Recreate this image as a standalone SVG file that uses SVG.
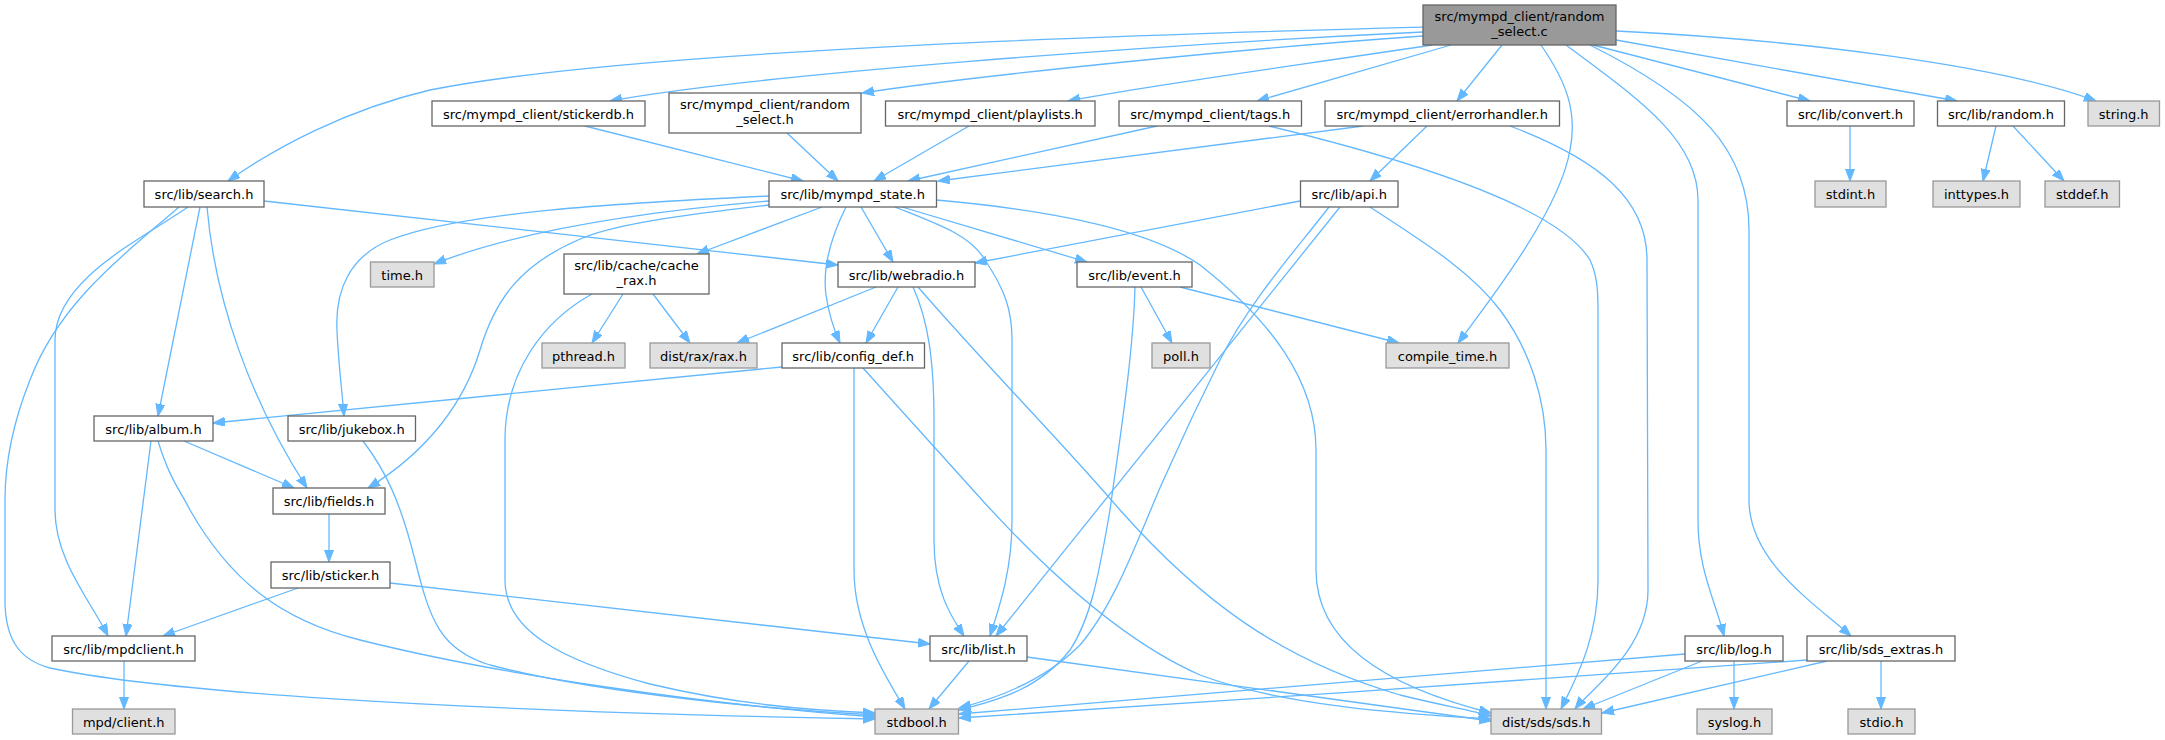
<svg xmlns="http://www.w3.org/2000/svg" width="2165" height="740" viewBox="0 0 2165 740">
<style>
.nd rect{fill:#ffffff;stroke:#666666;stroke-width:1.3}
.ex rect{fill:#e0e0e0;stroke:#999999;stroke-width:1.3}
.rt rect{fill:#999999;stroke:#666666;stroke-width:1.3}
text{font-family:"DejaVu Sans","Liberation Sans",sans-serif;font-size:13px;fill:#000000;text-anchor:middle}
#edges path{fill:none;stroke:#63b8ff;stroke-width:1.3;marker-end:url(#ah)}
</style>
<defs>
<marker id="ah" markerUnits="userSpaceOnUse" markerWidth="14" markerHeight="10" refX="12" refY="4.5" orient="auto">
<path d="M0,0 L12,4.5 L0,9 z" fill="#63b8ff" stroke="#63b8ff" stroke-width="1"/>
</marker>
</defs>
<rect width="2165" height="740" fill="#ffffff"/>
<g id="edges">
<path d="M1423,27 C1200,33 640,48 430,90 C345,110 275,148 228,181"/>
<path d="M1423,32 C1150,45 750,75 610,101"/>
<path d="M1423,36 C1250,48 980,75 862,93"/>
<path d="M1432,45 C1300,65 1150,85 1068,101"/>
<path d="M1451,45 L1257,101"/>
<path d="M1502,45 L1457,101"/>
<path d="M1541,45 C1565,80 1578,110 1570,150 C1560,210 1490,300 1458,343"/>
<path d="M1566,45 C1640,100 1698,140 1698,200 L1698,520 C1698,570 1715,600 1724,636"/>
<path d="M1590,45 C1700,100 1749,150 1749,230 L1749,500 C1749,560 1810,600 1851,636"/>
<path d="M1593,45 L1810,101"/>
<path d="M1616,40 L1957,101"/>
<path d="M1616,31 C1800,40 2000,65 2096,101"/>
<path d="M585,126 L803,181"/>
<path d="M787,133 L838,181"/>
<path d="M969,126 L874,181"/>
<path d="M1157,126 L908,181"/>
<path d="M1363,126 L938,181"/>
<path d="M1269,126 C1430,165 1560,210 1590,260 C1597,275 1598,290 1598,310 L1598,580 C1598,640 1575,680 1561,709"/>
<path d="M1427,126 L1370,181"/>
<path d="M1510,126 C1600,160 1647,200 1647,260 L1648,590 C1648,650 1590,690 1575,709"/>
<path d="M1850,126 L1850,181"/>
<path d="M1996,126 L1983,181"/>
<path d="M2013,126 L2064,181"/>
<path d="M264,201 L838,265"/>
<path d="M200,207 L158,416"/>
<path d="M207,207 C215,300 250,400 307,488"/>
<path d="M188,207 C140,240 55,280 55,340 L55,510 C55,560 90,600 108,636"/>
<path d="M179,207 C130,250 60,300 30,380 C10,430 5,470 5,500 L5,600 C5,640 20,660 50,668 C200,700 600,714 875,719"/>
<path d="M184,441 L294,488"/>
<path d="M151,441 L126,636"/>
<path d="M158,441 C170,480 180,490 190,510 C230,580 280,620 360,640 C500,675 700,704 875,717"/>
<path d="M363,441 C385,470 400,500 415,560 C430,620 440,650 490,665 C600,694 780,710 875,715"/>
<path d="M592,294 C545,320 505,370 505,440 L505,580 C505,630 560,660 650,684 C730,703 800,710 875,713"/>
<path d="M623,294 L592,343"/>
<path d="M653,294 L690,343"/>
<path d="M822,207 L697,254"/>
<path d="M769,201 C640,212 520,230 434,264"/>
<path d="M769,196 C620,203 460,212 390,240 C350,256 335,290 337,330 C338,360 342,390 344,416"/>
<path d="M769,205 C680,215 610,225 578,240 C520,265 495,300 480,350 C465,400 430,450 368,488"/>
<path d="M861,207 L893,262"/>
<path d="M846,207 C832,235 822,265 826,295 C829,315 834,330 840,343"/>
<path d="M895,207 C940,225 970,235 985,260 C1005,290 1012,310 1012,340 L1012,520 C1012,570 1000,605 990,636"/>
<path d="M902,207 L1087,262"/>
<path d="M936,200 C1050,210 1150,230 1200,265 C1270,320 1316,380 1316,450 L1316,570 C1316,640 1380,685 1491,713"/>
<path d="M876,287 L737,343"/>
<path d="M898,287 L866,343"/>
<path d="M913,287 C928,320 934,360 934,420 L934,540 C934,590 950,615 964,636"/>
<path d="M918,287 C990,370 1060,440 1120,510 C1200,600 1280,660 1400,695 C1440,705 1470,710 1491,716"/>
<path d="M1141,287 L1172,343"/>
<path d="M1180,287 L1399,343"/>
<path d="M1135,287 C1133,360 1118,450 1110,510 C1098,580 1090,620 1070,650 C1040,688 1000,700 959,710"/>
<path d="M1300,201 L975,263"/>
<path d="M1340,207 L996,636"/>
<path d="M1329,207 C1300,245 1250,300 1220,360 C1185,430 1168,470 1159,490 C1130,560 1110,610 1080,645 C1050,675 1010,695 959,708"/>
<path d="M1370,207 C1420,240 1470,270 1500,310 C1530,350 1546,400 1546,450 L1546,709"/>
<path d="M782,367 L213,423"/>
<path d="M854,368 L854,570 C854,630 888,680 905,709"/>
<path d="M863,368 L973,490 C1040,565 1120,640 1200,675 C1280,705 1400,714 1491,719"/>
<path d="M969,661 L929,709"/>
<path d="M1027,657 L1491,721"/>
<path d="M298,588 L163,636"/>
<path d="M390,583 L930,644"/>
<path d="M329,514 L329,562"/>
<path d="M124,661 L124,709"/>
<path d="M1734,661 L1734,709"/>
<path d="M1702,661 L1583,709"/>
<path d="M1685,654 L959,714"/>
<path d="M1881,661 L1881,709"/>
<path d="M1827,661 L1602,713"/>
<path d="M1807,660 C1600,675 1200,703 959,718"/>
</g>
<g id="n_root" class="rt"><rect x="1423" y="5" width="193" height="40"/><text x="1519.5" y="21">src/mympd_client/random</text><text x="1519.5" y="35.5">_select.c</text></g>
<g id="n_stickerdb" class="nd"><rect x="432" y="101" width="213" height="25"/><text x="538.5" y="118.5">src/mympd_client/stickerdb.h</text></g>
<g id="n_random_select_h" class="nd"><rect x="669" y="93" width="192" height="40"/><text x="765" y="109">src/mympd_client/random</text><text x="765" y="123.5">_select.h</text></g>
<g id="n_playlists" class="nd"><rect x="885.5" y="101" width="209.5" height="25"/><text x="990.2" y="118.5">src/mympd_client/playlists.h</text></g>
<g id="n_tags" class="nd"><rect x="1119" y="101" width="182.5" height="25"/><text x="1210.2" y="118.5">src/mympd_client/tags.h</text></g>
<g id="n_errorhandler" class="nd"><rect x="1325" y="101" width="234.5" height="25"/><text x="1442.2" y="118.5">src/mympd_client/errorhandler.h</text></g>
<g id="n_convert" class="nd"><rect x="1787" y="101" width="127" height="25"/><text x="1850.5" y="118.5">src/lib/convert.h</text></g>
<g id="n_random" class="nd"><rect x="1937.5" y="101" width="127" height="25"/><text x="2001" y="118.5">src/lib/random.h</text></g>
<g id="n_string" class="ex"><rect x="2088" y="101" width="71.5" height="25"/><text x="2123.7" y="118.5">string.h</text></g>
<g id="n_search" class="nd"><rect x="144" y="181" width="120" height="26"/><text x="204" y="199">src/lib/search.h</text></g>
<g id="n_mympd_state" class="nd"><rect x="769" y="181" width="167.5" height="26"/><text x="852.7" y="199">src/lib/mympd_state.h</text></g>
<g id="n_api" class="nd"><rect x="1300.5" y="181" width="97.5" height="26"/><text x="1349.2" y="199">src/lib/api.h</text></g>
<g id="n_stdint" class="ex"><rect x="1815" y="181" width="71" height="26"/><text x="1850.5" y="199">stdint.h</text></g>
<g id="n_inttypes" class="ex"><rect x="1933" y="181" width="87" height="26"/><text x="1976.5" y="199">inttypes.h</text></g>
<g id="n_stddef" class="ex"><rect x="2045" y="181" width="74.5" height="26"/><text x="2082.2" y="199">stddef.h</text></g>
<g id="n_time" class="ex"><rect x="370.5" y="262" width="63.5" height="25"/><text x="402.2" y="279.5">time.h</text></g>
<g id="n_cache_rax" class="nd"><rect x="564" y="254" width="145" height="40"/><text x="636.5" y="270">src/lib/cache/cache</text><text x="636.5" y="284.5">_rax.h</text></g>
<g id="n_webradio" class="nd"><rect x="838" y="262" width="137" height="25"/><text x="906.5" y="279.5">src/lib/webradio.h</text></g>
<g id="n_event" class="nd"><rect x="1077" y="262" width="115" height="25"/><text x="1134.5" y="279.5">src/lib/event.h</text></g>
<g id="n_pthread" class="ex"><rect x="542" y="343" width="83" height="25"/><text x="583.5" y="360.5">pthread.h</text></g>
<g id="n_rax" class="ex"><rect x="650" y="343" width="107" height="25"/><text x="703.5" y="360.5">dist/rax/rax.h</text></g>
<g id="n_config_def" class="nd"><rect x="782" y="343" width="142.5" height="25"/><text x="853.2" y="360.5">src/lib/config_def.h</text></g>
<g id="n_poll" class="ex"><rect x="1152" y="343" width="58" height="25"/><text x="1181" y="360.5">poll.h</text></g>
<g id="n_compile_time" class="ex"><rect x="1386" y="343" width="123" height="25"/><text x="1447.5" y="360.5">compile_time.h</text></g>
<g id="n_album" class="nd"><rect x="94" y="416" width="119" height="25"/><text x="153.5" y="433.5">src/lib/album.h</text></g>
<g id="n_jukebox" class="nd"><rect x="288" y="416" width="127.5" height="25"/><text x="351.7" y="433.5">src/lib/jukebox.h</text></g>
<g id="n_fields" class="nd"><rect x="273" y="488" width="112" height="26"/><text x="329" y="506">src/lib/fields.h</text></g>
<g id="n_sticker" class="nd"><rect x="271" y="562" width="119" height="26"/><text x="330.5" y="580">src/lib/sticker.h</text></g>
<g id="n_mpdclient" class="nd"><rect x="52" y="636" width="143" height="25"/><text x="123.5" y="653.5">src/lib/mpdclient.h</text></g>
<g id="n_list" class="nd"><rect x="930" y="636" width="97" height="25"/><text x="978.5" y="653.5">src/lib/list.h</text></g>
<g id="n_log" class="nd"><rect x="1685" y="636" width="98" height="25"/><text x="1734" y="653.5">src/lib/log.h</text></g>
<g id="n_sds_extras" class="nd"><rect x="1807" y="636" width="148" height="25"/><text x="1881" y="653.5">src/lib/sds_extras.h</text></g>
<g id="n_mpd_client" class="ex"><rect x="72.5" y="709" width="102.5" height="25"/><text x="123.7" y="726.5">mpd/client.h</text></g>
<g id="n_stdbool" class="ex"><rect x="875" y="709" width="83.5" height="25"/><text x="916.7" y="726.5">stdbool.h</text></g>
<g id="n_sds" class="ex"><rect x="1491" y="709" width="110.5" height="25"/><text x="1546.2" y="726.5">dist/sds/sds.h</text></g>
<g id="n_syslog" class="ex"><rect x="1697" y="709" width="75" height="25"/><text x="1734.5" y="726.5">syslog.h</text></g>
<g id="n_stdio" class="ex"><rect x="1848" y="709" width="67" height="25"/><text x="1881.5" y="726.5">stdio.h</text></g>
</svg>
